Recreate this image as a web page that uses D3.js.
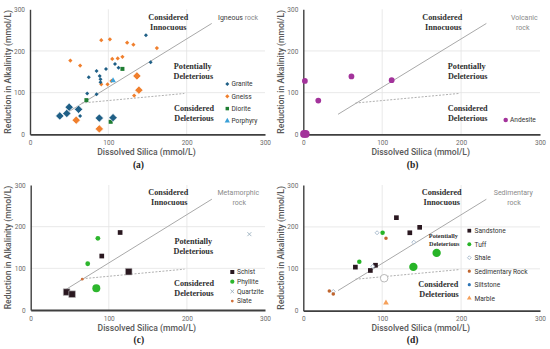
<!DOCTYPE html>
<html><head><meta charset="utf-8">
<script src="https://cdn.jsdelivr.net/npm/d3@7"></script>
<style>body{margin:0;background:#fff}svg{display:block}</style>
</head><body>
<script>
// ---------- DATA ----------
const xTicks = [0, 100, 200, 300];
const yTicks = [0, 100, 200, 300];
const solidLine = [[44, 48], [232, 266]];
const dashedLine = [[66, 75], [197, 98]];

// (a) Igneous
const granite = [[148,238],[154,173],[108.5,169],[113,160],[97,157],[85,152],[75,137],[89,140],[90,132],[90,125],[73,98],[85,96],[64,44]];
const graniteLarge = [[38,44],[47,50],[50,65],[62,60],[88.5,39],[106,40]];
const gneiss = [[91,226],[102,228],[124,220],[132,215],[162,207],[118,186],[112,182],[105,181],[51.5,177],[64,165],[91,120],[99,120],[104,128],[133,93]];
const gneissLarge = [[136.5,140],[139,106],[59,34],[88.5,13]];
const diorite = [[72,82],[118,157],[103,30]];
const porphyry = [[106,129]];
// (b) Volcanic
const andesite = [[2,128],[19,81],[61,139],[112,130]];
const andesiteLarge = [[1,1],[3,1]];
// (c) Metamorphic
const schist = [[114.5,186],[91,129.5]];
const schistLarge = [[125.5,92],[46,43],[53,38]];
const phyllite = [[86,172],[73,111]];
const phylliteLarge = [[84,52]];
const quartzite = [[280,182]];
const slate = [[66,74]];
// (d) Sedimentary
const sandstone = [[118,222],[135,186],[147.5,199],[66,104],[85,96],[91.5,108.5]];
const tuff = [[100.5,186],[71,117]];
const tuffLarge = [[139.5,104.5],[169,138]];
const shale = [[93.5,186],[140,163.5],[88,106],[38,46]];
const shaleLarge = [[102.5,77.5]];
const sedRock = [[33,47],[38,40],[104.8,173]];
const siltstone = [];
const marble = [[104.8,19]];

const legendA = ["Granite","Gneiss","Diorite","Porphyry"];
const legendB = ["Andesite"];
const legendC = ["Schist","Phyllite","Quartzite","Slate"];
const legendD = ["Sandstone","Tuff","Shale","Sedimentary Rock","Siltstone","Marble"];

// ---------- STYLES ----------
const C = {
  granite:"#1f5f86", gneiss:"#f07f2d", diorite:"#1e7d32", porphyry:"#3aa0d8",
  andesite:"#a3339b", schist:"#2a1820", phyllite:"#2db62d", quartzite:"#8fa7b8",
  slate:"#d0703a", sandstone:"#2a1820", tuff:"#27b427", shale:"#9fb3c8",
  sedRock:"#c0652e", siltstone:"#2e75b6", marble:"#f5a05a"
};
const DIAM = "diamond45";

const W = 550, H = 349;
const svg = d3.select("body").append("svg").attr("width", W).attr("height", H)
  .style("font-family", "Roboto, 'Liberation Sans', Arial, sans-serif");

const panels = [
  {id:"a", ox:0, oy:0, l:30, r:265, t:9.3, b:134.3, rock:["Igneous"," rock"], label:"(a)"},
  {id:"b", ox:275, oy:0, l:28.3, r:265, t:9.3, b:134.3, rock:["Volcanic","rock"], label:"(b)"},
  {id:"c", ox:0, oy:175, l:30.7, r:265, t:10, b:135, rock:["Metamorphic","rock"], label:"(c)"},
  {id:"d", ox:275, oy:175, l:28.3, r:265, t:10, b:135.7, rock:["Sedimentary","rock"], label:"(d)"}
];

function setup(p) {
  const g = svg.append("g").attr("transform", `translate(${p.ox},${p.oy})`);
  const x = d3.scaleLinear().domain([0,300]).range([p.l, p.r]);
  const y = d3.scaleLinear().domain([0,300]).range([p.b, p.t]);
  g.append("g").selectAll("line").data([100,200]).join("line")
    .attr("x1", d=>x(d)).attr("x2", d=>x(d)).attr("y1", y(0)).attr("y2", y(300))
    .attr("stroke", "#e3e3e3").attr("stroke-width", 0.8);
  g.append("g").selectAll("line").data([100,200]).join("line")
    .attr("x1", x(0)).attr("x2", x(300)).attr("y1", d=>y(d)).attr("y2", d=>y(d))
    .attr("stroke", "#e3e3e3").attr("stroke-width", 0.8);
  const xa = g.append("g").attr("transform", `translate(0,${p.b})`)
    .call(d3.axisBottom(x).tickValues(xTicks).tickSize(0).tickPadding(6));
  const ya = g.append("g").attr("transform", `translate(${p.l},0)`)
    .call(d3.axisLeft(y).tickValues(yTicks).tickSize(0).tickPadding(5));
  xa.select(".domain").attr("stroke", "#3f3f3f").attr("stroke-width", 1.8);
  ya.select(".domain").attr("stroke", "#3f3f3f").attr("stroke-width", 1.4);
  [xa, ya].forEach(a => a.selectAll("text").attr("fill", "#6b6b6b").style("font-size", "6.5px")
    .style("font-family", "Roboto, 'Liberation Sans', sans-serif"));
  g.append("text").attr("x", (p.l+p.r)/2 - 1).attr("y", p.b + 20.5).attr("text-anchor", "middle")
    .attr("fill", "#595959").style("font-size", "8.6px").style("font-weight", "500")
    .text("Dissolved Silica (mmol/L)");
  g.append("text").attr("transform", `translate(${p.l - 19.5},${(p.t+p.b)/2}) rotate(-90)`)
    .attr("text-anchor", "middle").attr("fill", "#595959").style("font-size", "8.6px").style("font-weight", "500")
    .text("Reduction in Alkalinity (mmol/L)");
  g.append("text").attr("x", (p.l+p.r)/2 - 9).attr("y", 167.5).attr("text-anchor", "middle")
    .attr("fill", "#222").style("font-family", "'Liberation Serif', serif").style("font-weight", "bold")
    .style("font-size", "9.5px").text(p.label);
  const ln = d3.line().x(d=>x(d[0])).y(d=>y(d[1]));
  g.append("path").attr("d", ln(solidLine)).attr("fill","none").attr("stroke","#a9a9a9").attr("stroke-width",1);
  g.append("path").attr("d", ln(dashedLine)).attr("fill","none").attr("stroke","#b0b0b0")
    .attr("stroke-width",1).attr("stroke-dasharray","2,1.5");
  return {g, x, y};
}

function regionText(g, items, size) {
  items.forEach(([txt, cx, cy]) => {
    g.append("text").attr("x", cx).attr("y", cy).attr("text-anchor","middle").attr("dy","0.35em")
      .attr("fill","#2f2f2f").style("font-family","'Liberation Serif', 'Times New Roman', serif")
      .style("font-weight","bold").style("font-size", (size||8.2)+"px").text(txt);
  });
}

function sym(type, size) {
  return d3.symbol().type(type === DIAM ? d3.symbolSquare : type).size(size)();
}
function rot(type) { return type === DIAM ? " rotate(45)" : ""; }

function plotSeries(ctx, data, type, size, fill, stroke, sw) {
  ctx.g.append("g").selectAll("path").data(data).join("path")
    .attr("transform", d => `translate(${ctx.x(d[0])},${ctx.y(d[1])})` + rot(type))
    .attr("d", sym(type, size))
    .attr("fill", fill).attr("stroke", stroke || "none").attr("stroke-width", sw || 0);
}

function legend(g, names, styles, mx, tx, y0, dy) {
  names.forEach((n, i) => {
    const s = styles[i];
    g.append("path").attr("transform", `translate(${mx},${y0 + i*dy})` + rot(s[0])).attr("d", sym(s[0], s[1]))
      .attr("fill", s[2]).attr("stroke", s[3] || "none").attr("stroke-width", s[4] || 0);
    g.append("text").attr("x", tx).attr("y", y0 + i*dy).attr("dy","0.35em").attr("fill","#333")
      .style("font-size","6.6px").text(n);
  });
}

// ---------- PANEL A ----------
{
  const p = panels[0]; const ctx = setup(p);
  regionText(ctx.g, [["Considered",168.3,16.7],["Innocuous",168.3,27.3],
    ["Potentially",192.7,66],["Deleterious",193.3,76],["Considered",194,108.3],["Deleterious",194,118.3]]);
  const t = ctx.g.append("text").attr("x", 218).attr("y", 17.3).attr("dy","0.35em").style("font-size","7px");
  t.append("tspan").attr("fill","#3a3a3a").text("Igneous");
  t.append("tspan").attr("fill","#8a8a8a").text(" rock");
  plotSeries(ctx, gneiss, DIAM, 9, C.gneiss);
  plotSeries(ctx, granite, DIAM, 8, C.granite);
  plotSeries(ctx, diorite, d3.symbolSquare, 16, C.diorite);
  plotSeries(ctx, porphyry, d3.symbolTriangle, 14, C.porphyry);
  plotSeries(ctx, gneissLarge, DIAM, 34, C.gneiss, "#ffffff", 0.6);
  plotSeries(ctx, graniteLarge, DIAM, 34, C.granite, "#ffffff", 0.6);
  legend(ctx.g, legendA, [[DIAM,8,C.granite],[DIAM,9,C.gneiss],
    [d3.symbolSquare,12,C.diorite],[d3.symbolTriangle,12,C.porphyry]], 227.3, 231.5, 84, 12.3);
}
// ---------- PANEL B ----------
{
  const p = panels[1]; const ctx = setup(p);
  regionText(ctx.g, [["Considered",167.3,16.7],["Innocuous",168.3,27.3],
    ["Potentially",191.7,66],["Deleterious",192.7,76],["Considered",192.7,108.3],["Deleterious",192.7,118.3]]);
  ctx.g.append("text").attr("x",249.3).attr("y",17.3).attr("dy","0.35em").attr("text-anchor","middle")
    .attr("fill","#8a8a8a").style("font-size","7px").text(p.rock[0]);
  ctx.g.append("text").attr("x",247.7).attr("y",27.3).attr("dy","0.35em").attr("text-anchor","middle")
    .attr("fill","#8a8a8a").style("font-size","7px").text(p.rock[1]);
  plotSeries(ctx, andesiteLarge, d3.symbolCircle, 50, C.andesite);
  plotSeries(ctx, andesite, d3.symbolCircle, 26, C.andesite);
  legend(ctx.g, legendB, [[d3.symbolCircle,16,C.andesite]], 230.7, 235, 120, 12);
}
// ---------- PANEL C ----------
{
  const p = panels[2]; const ctx = setup(p);
  regionText(ctx.g, [["Considered",168.3,17.3],["Innocuous",169.3,27.3],
    ["Potentially",193.3,66],["Deleterious",193.3,76],["Considered",194,108.3],["Deleterious",194,118.3]]);
  ctx.g.append("text").attr("x",238.3).attr("y",17.3).attr("dy","0.35em").attr("text-anchor","middle")
    .attr("fill","#8a8a8a").style("font-size","7px").text(p.rock[0]);
  ctx.g.append("text").attr("x",239.3).attr("y",27.3).attr("dy","0.35em").attr("text-anchor","middle")
    .attr("fill","#8a8a8a").style("font-size","7px").text(p.rock[1]);
  plotSeries(ctx, schist, d3.symbolSquare, 22, C.schist);
  plotSeries(ctx, schistLarge, d3.symbolSquare, 44, C.schist, "#bbb", 0.6);
  plotSeries(ctx, phyllite, d3.symbolCircle, 18, C.phyllite);
  plotSeries(ctx, phylliteLarge, d3.symbolCircle, 50, C.phyllite);
  plotSeries(ctx, quartzite, d3.symbolTimes, 12, "none", C.quartzite, 0.8);
  plotSeries(ctx, slate, d3.symbolCircle, 6, C.slate);
  legend(ctx.g, legendC, [[d3.symbolSquare,16,C.schist],[d3.symbolCircle,14,C.phyllite],
    [d3.symbolTimes,10,"none",C.quartzite,0.8],[d3.symbolCircle,6,C.slate]], 232.3, 237, 97, 9.7);
}
// ---------- PANEL D ----------
{
  const p = panels[3]; const ctx = setup(p);
  regionText(ctx.g, [["Considered",166.7,17.3],["Innocuous",166.7,27.3],
    ["Considered",163.3,108.7],["Deleterious",164,118.7]]);
  regionText(ctx.g, [["Potentially",168.3,61],["Deleterious",169.3,69]], 6.3);
  ctx.g.append("text").attr("x",238.3).attr("y",17.3).attr("dy","0.35em").attr("text-anchor","middle")
    .attr("fill","#8a8a8a").style("font-size","7px").text(p.rock[0]);
  ctx.g.append("text").attr("x",239).attr("y",27.3).attr("dy","0.35em").attr("text-anchor","middle")
    .attr("fill","#8a8a8a").style("font-size","7px").text(p.rock[1]);
  plotSeries(ctx, sandstone, d3.symbolSquare, 22, C.sandstone);
  plotSeries(ctx, tuff, d3.symbolCircle, 16, C.tuff);
  plotSeries(ctx, tuffLarge, d3.symbolCircle, 55, C.tuff);
  plotSeries(ctx, shale, DIAM, 8, "#fff", C.shale, 0.8);
  plotSeries(ctx, shaleLarge, d3.symbolCircle, 45, "#fff", "#a8a8a8", 0.8);
  plotSeries(ctx, sedRock, d3.symbolCircle, 10, C.sedRock);
  plotSeries(ctx, siltstone, d3.symbolCircle, 10, C.siltstone);
  plotSeries(ctx, marble, d3.symbolTriangle, 14, C.marble);
  legend(ctx.g, legendD, [[d3.symbolSquare,14,C.sandstone],[d3.symbolCircle,12,C.tuff],
    [DIAM,7,"#fff",C.shale,0.8],[d3.symbolCircle,8,C.sedRock],
    [d3.symbolCircle,8,C.siltstone],[d3.symbolTriangle,10,C.marble]], 194.3, 199.5, 55.7, 13.5);
}
</script>
</body></html>
